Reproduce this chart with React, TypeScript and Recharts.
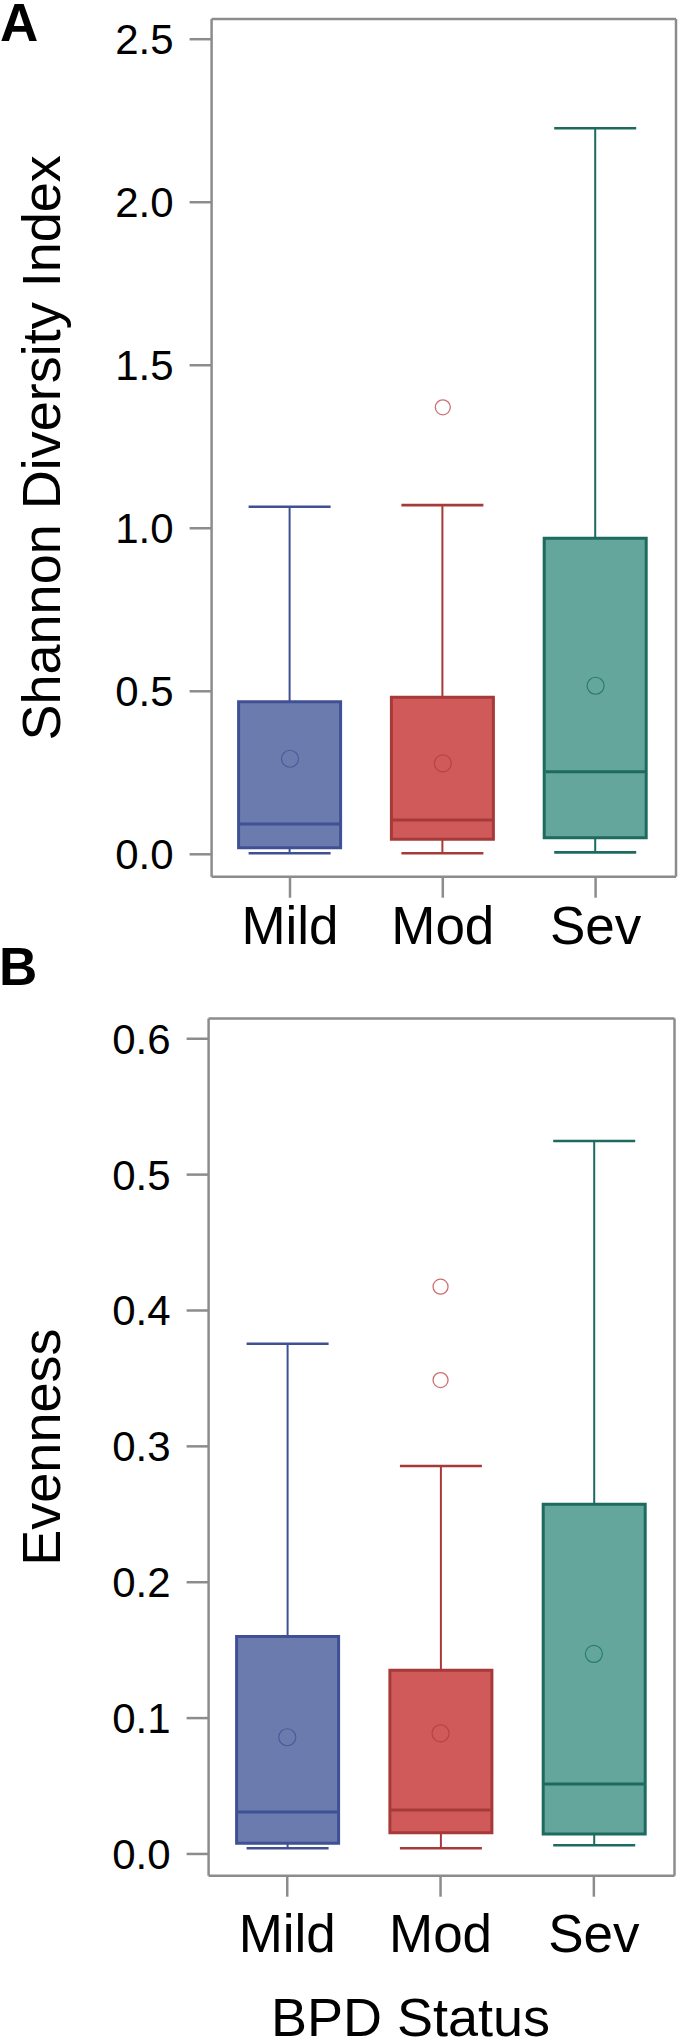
import { ComposedChart, Bar, Scatter, XAxis, YAxis, Cell } from "recharts";

const categories = ["Mild", "Mod", "Sev"];

// Shannon diversity index (panel A)
const shannonMin = [0.003, 0.003, 0.006];
const shannonQ1 = [0.02, 0.046, 0.051];
const shannonMedian = [0.093, 0.105, 0.253];
const shannonQ3 = [0.468, 0.482, 0.969];
const shannonMax = [1.066, 1.071, 2.227];
const shannonMean = [0.293, 0.279, 0.517];
const shannonOutliers = [[], [1.371], []];
const shannonTicks = [0, 0.5, 1.0, 1.5, 2.0, 2.5];

// Evenness (panel B)
const evenMin = [0.0042, 0.0042, 0.0064];
const evenQ1 = [0.0079, 0.0157, 0.0147];
const evenMedian = [0.0309, 0.0324, 0.0515];
const evenQ3 = [0.16, 0.1352, 0.2573];
const evenMax = [0.3755, 0.2855, 0.5247];
const evenMean = [0.0859, 0.0888, 0.1472];
const evenOutliers = [[], [0.4175, 0.3488], []];
const evenTicks = [0, 0.1, 0.2, 0.3, 0.4, 0.5, 0.6];

const fills = ["#6c7bae", "#d05a5a", "#64a69c"];
const strokes = ["#3f5094", "#a63a38", "#1d6a5f"];
const meanStrokes = ["#4a5c9c", "#b54444", "#2a7a6e"];
const outlierStroke = "#cc7070";
const frameColor = "#8c8c8c";
const font = "'Liberation Sans', Arial, Helvetica, sans-serif";

function buildRows(mins, q1s, medians, q3s, maxs, means, outliers) {
  return categories.map((name, i) => ({
    name,
    whisker: [mins[i], maxs[i]],
    box: [q1s[i], q3s[i]],
    median: medians[i],
    mean: means[i],
    out1: outliers[i][0] ?? null,
    out2: outliers[i][1] ?? null,
  }));
}

const shannonRows = buildRows(shannonMin, shannonQ1, shannonMedian, shannonQ3, shannonMax, shannonMean, shannonOutliers);
const evenRows = buildRows(evenMin, evenQ1, evenMedian, evenQ3, evenMax, evenMean, evenOutliers);

const catIndex = (payload: any) => Math.max(0, categories.indexOf(payload?.name));

const WhiskerShape = (props: any) => {
  const { x, y, width, height, payload } = props;
  if (x == null || y == null) return <g />;
  const c = strokes[catIndex(payload)];
  const cx = x + width / 2;
  return (
    <g>
      <line x1={cx} x2={cx} y1={y} y2={y + height} stroke={c} strokeWidth={2} />
      <line x1={cx - 41} x2={cx + 41} y1={y} y2={y} stroke={c} strokeWidth={2.6} />
      <line x1={cx - 41} x2={cx + 41} y1={y + height} y2={y + height} stroke={c} strokeWidth={2.6} />
    </g>
  );
};

const MedianShape = (props: any) => {
  const { cx, cy, payload } = props;
  if (cx == null || cy == null || isNaN(cy)) return <g />;
  const c = strokes[catIndex(payload)];
  return <line x1={cx - 50} x2={cx + 50} y1={cy} y2={cy} stroke={c} strokeWidth={3} />;
};

const MeanShape = (props: any) => {
  const { cx, cy, payload } = props;
  if (cx == null || cy == null || isNaN(cy)) return <g />;
  return <circle cx={cx} cy={cy} r={8.5} fill="none" stroke={meanStrokes[catIndex(payload)]} strokeWidth={1.2} />;
};

const outlierShape = (key: string) => (props: any) => {
  const { cx, cy, payload } = props;
  if (payload?.[key] == null || cx == null || cy == null || isNaN(cy)) return <g />;
  return <circle cx={cx} cy={cy} r={7.5} fill="none" stroke={outlierStroke} strokeWidth={1.3} />;
};

const frameLine = { stroke: frameColor, strokeWidth: 2.5 };

function BoxPanel({ rows, ticks, domain, height, margin, yWidth, xHeight, xTickMargin, yTitle, xTitle }: any) {
  return (
    <ComposedChart width={680} height={height} data={rows} margin={margin} barGap={-102}>
      <XAxis
        dataKey="name"
        type="category"
        height={xHeight}
        padding={{ left: 2, right: 4 }}
        axisLine={frameLine}
        tickLine={frameLine}
        tickSize={21}
        tickMargin={xTickMargin}
        tick={{ fill: "#000", fontSize: 53, fontFamily: font }}
        interval={0}
        label={
          xTitle
            ? {
                content: (p: any) => {
                  const vb = p.viewBox;
                  return (
                    <text x={vb.x + vb.width / 2 - 31} y={vb.y + vb.height - 4} textAnchor="middle" fontSize={54} fontFamily={font} fill="#000">
                      {xTitle}
                    </text>
                  );
                },
              }
            : undefined
        }
      />
      <XAxis xAxisId="top" orientation="top" dataKey="name" height={1} tick={false} tickLine={false} axisLine={frameLine} padding={{ left: 2, right: 4 }} />
      <YAxis
        type="number"
        domain={domain}
        ticks={ticks}
        allowDataOverflow
        width={yWidth}
        axisLine={frameLine}
        tickLine={frameLine}
        tickSize={22}
        tickMargin={16}
        tickFormatter={(v: number) => v.toFixed(1)}
        tick={{ fill: "#000", fontSize: 42, fontFamily: font }}
        label={{
          value: yTitle,
          angle: -90,
          position: "insideLeft",
          offset: 41,
          style: { textAnchor: "middle", fontSize: 54, fill: "#000", fontFamily: font },
        }}
      />
      <YAxis yAxisId="right" orientation="right" type="number" domain={domain} allowDataOverflow width={1} tick={false} tickLine={false} axisLine={frameLine} />
      <Bar dataKey="whisker" barSize={102} shape={WhiskerShape} isAnimationActive={false} />
      <Bar dataKey="box" barSize={102} strokeWidth={3} isAnimationActive={false}>
        {rows.map((r: any, i: number) => (
          <Cell key={r.name} fill={fills[i]} stroke={strokes[i]} />
        ))}
      </Bar>
      <Scatter dataKey="median" shape={MedianShape} isAnimationActive={false} />
      <Scatter dataKey="mean" shape={MeanShape} isAnimationActive={false} />
      <Scatter dataKey="out1" shape={outlierShape("out1")} isAnimationActive={false} />
      <Scatter dataKey="out2" shape={outlierShape("out2")} isAnimationActive={false} />
    </ComposedChart>
  );
}

export default function App() {
  return (
    <div style={{ position: "absolute", left: 0, top: 0, width: 680, height: 2040, background: "#fff", fontFamily: font }}>
      <div style={{ position: "absolute", left: 0, top: 0 }}>
        <BoxPanel
          rows={shannonRows}
          ticks={shannonTicks}
          domain={[-0.0687, 2.562]}
          height={965}
          margin={{ top: 18, right: 3, bottom: 0, left: 0 }}
          yWidth={211.6}
          xHeight={88.3}
          xTickMargin={9}
          yTitle="Shannon Diversity Index"
        />
      </div>
      <div style={{ position: "absolute", left: 0, top: 950 }}>
        <BoxPanel
          rows={evenRows}
          ticks={evenTicks}
          domain={[-0.016, 0.6149]}
          height={1090}
          margin={{ top: 67.5, right: 4.5, bottom: 0, left: 0 }}
          yWidth={208.6}
          xHeight={164.3}
          xTickMargin={17.7}
          yTitle="Evenness"
          xTitle="BPD Status"
        />
      </div>
      <svg width={680} height={2040} style={{ position: "absolute", left: 0, top: 0, pointerEvents: "none" }}>
        <text x={0} y={41} fontSize={53} fontWeight="bold" fontFamily={font} fill="#000">A</text>
        <text x={-1} y={985} fontSize={53} fontWeight="bold" fontFamily={font} fill="#000">B</text>
      </svg>
    </div>
  );
}
